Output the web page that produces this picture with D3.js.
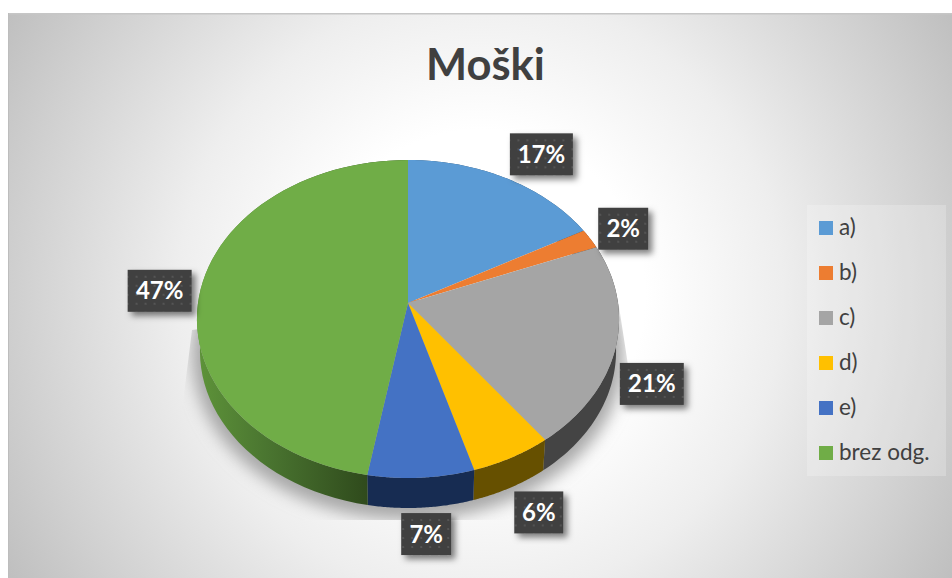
<!DOCTYPE html>
<html>
<head>
<meta charset="utf-8">
<script src="https://cdn.jsdelivr.net/npm/d3@7"></script>
<style>
html,body{margin:0;padding:0;background:#fff;overflow:hidden}
svg{display:block;font-family:Lato,"Open Sans",sans-serif}
</style>
</head>
<body>
<svg id="c" width="952" height="578"></svg>
<script>
const chartTitle = "Moški";
const categories = ["a)", "b)", "c)", "d)", "e)", "brez odg."];
const shares = [17, 2, 20.75, 5.65, 7.4, 47.2];
const faceColors = ["#5b9bd5", "#ed7d31", "#a5a5a5", "#ffc000", "#4472c4", "#70ad47"];
const wallColors = ["#2b4f6f", "#6f3a17", "#444444", "#665000", "#172c52", "url(#greenWall)"];
const labelNudges = [[35,-24],[33,-10],[36,37],[27,55],[5,56.4],[-41,1.5]];
const labelWidths = [63, 50, 64, 49, 50, 64];

const svg = d3.select("#c");
const defs = svg.append("defs");

// perspective projection of the disc
const cx = 408, A = 210, a = 126.9, b = 303, c = -0.1006;
const top3d = t => {
  const u = Math.sin(t), v = -Math.cos(t), den = 1 + c * v;
  return [cx + A * u / den, (a * v + b) / den];
};
const low3d = ([x, y]) => [cx + (x - cx) * 208 / 211, 351 + (y - 319) * 157 / 159];

// background
const bg = defs.append("radialGradient").attr("id", "bg").attr("gradientUnits", "userSpaceOnUse")
  .attr("cx", 480).attr("cy", 295).attr("r", 550);
[[0.3,"#ffffff"],[0.55,"#eeeeee"],[0.85,"#cfcfcf"],[1,"#bfbfbf"]].forEach(s =>
  bg.append("stop").attr("offset", s[0]).attr("stop-color", s[1]));
const gw = defs.append("linearGradient").attr("id", "greenWall").attr("gradientUnits", "userSpaceOnUse")
  .attr("x1", 200).attr("x2", 368).attr("y1", 0).attr("y2", 0);
[[0,"#5d9239"],[0.4,"#4a7530"],[1,"#2f4a1c"]].forEach(s =>
  gw.append("stop").attr("offset", s[0]).attr("stop-color", s[1]));
defs.append("filter").attr("id", "blurShadow").attr("x", "-20%").attr("y", "-20%").attr("width", "140%").attr("height", "140%")
  .append("feGaussianBlur").attr("stdDeviation", 8);
const ds = defs.append("filter").attr("id", "boxShadow").attr("x", "-30%").attr("y", "-30%").attr("width", "170%").attr("height", "170%");
ds.append("feDropShadow").attr("dx", 4).attr("dy", 4).attr("stdDeviation", 3).attr("flood-color", "#000").attr("flood-opacity", 0.5);
const pat = defs.append("pattern").attr("id", "dots").attr("patternUnits", "userSpaceOnUse")
  .attr("width", 9).attr("height", 9);
pat.append("rect").attr("width", 9).attr("height", 9).attr("fill", "#404040");
pat.append("circle").attr("cx", 4).attr("cy", 4).attr("r", 1.1).attr("fill", "#585858");
defs.append("clipPath").attr("id", "shadowClip").append("polygon")
  .attr("points", "192,330 182,410 182,520 650,520 650,420 628,365 618,300 408,300");

svg.append("rect").attr("x", 8).attr("y", 13).attr("width", 944).attr("height", 565).attr("fill", "url(#bg)");
svg.append("rect").attr("x", 8).attr("y", 13).attr("width", 944).attr("height", 1.5).attr("fill", "#c6c6c6");
svg.append("rect").attr("x", 8).attr("y", 13).attr("width", 1).attr("height", 565).attr("fill", "#bdbdbd");

// title
svg.append("text").attr("x", 485.5).attr("y", 80).attr("text-anchor", "middle")
  .attr("font-size", 43.5).attr("font-weight", 700).attr("fill", "#404040").text(chartTitle);

// shadow under pie
svg.append("g").attr("clip-path", "url(#shadowClip)")
  .append("ellipse").attr("cx", 408).attr("cy", 355).attr("rx", 216).attr("ry", 165)
  .attr("fill", "#a8a8a8").attr("filter", "url(#blurShadow)");

// pie
const arcs = d3.pie().sort(null).value(d => d)(shares);
const line = d3.line();
const samples = d => d3.range(0, 61).map(i => top3d(d.startAngle + (d.endAngle - d.startAngle) * i / 60));

svg.append("g").selectAll("path").data(arcs).join("path")
  .attr("d", d => { const s = samples(d); return line(s.concat(s.map(low3d).reverse())) + "Z"; })
  .attr("fill", (d, i) => wallColors[i]);

svg.append("g").selectAll("path").data(arcs).join("path")
  .attr("d", d => line([[cx, b]].concat(samples(d))) + "Z")
  .attr("fill", (d, i) => faceColors[i]);

// data labels
const labels = svg.append("g").selectAll("g").data(arcs).join("g")
  .attr("transform", (d, i) => {
    const p = top3d((d.startAngle + d.endAngle) / 2);
    return `translate(${p[0] + labelNudges[i][0]},${p[1] + labelNudges[i][1]})`;
  });
labels.append("rect")
  .attr("x", (d, i) => -labelWidths[i] / 2).attr("y", -21)
  .attr("width", (d, i) => labelWidths[i]).attr("height", 42)
  .attr("fill", "url(#dots)").attr("filter", "url(#boxShadow)");
labels.append("text").attr("text-anchor", "middle").attr("y", 8.5)
  .attr("font-size", 24).attr("font-weight", 700).attr("fill", "#fff")
  .text(d => Math.round(d.data) + "%");

// legend
svg.append("rect").attr("x", 807).attr("y", 205).attr("width", 139).attr("height", 271)
  .attr("fill", "#fff").attr("fill-opacity", 0.22);
const ly = d3.scalePoint().domain(categories).range([228, 453]);
const lg = svg.append("g").selectAll("g").data(categories).join("g")
  .attr("transform", d => `translate(819,${ly(d)})`);
lg.append("rect").attr("y", -7).attr("width", 14).attr("height", 14)
  .attr("fill", (d, i) => faceColors[i]);
lg.append("text").attr("x", 20).attr("y", 7).attr("font-size", 22.5).attr("fill", "#404040").text(d => d);
</script>
</body>
</html>
